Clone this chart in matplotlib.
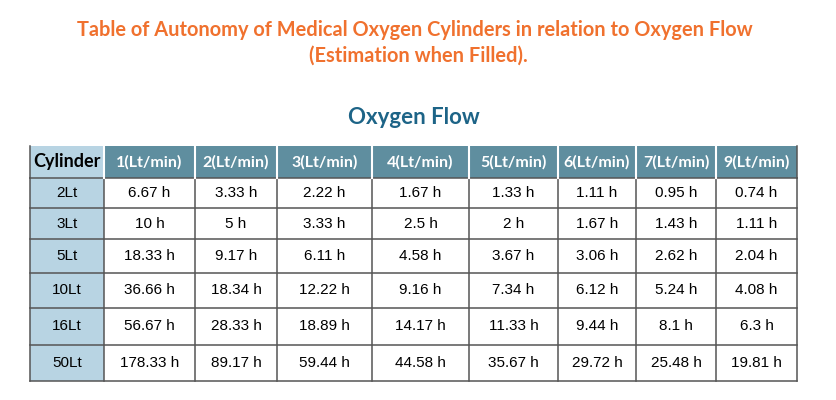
import matplotlib
matplotlib.use("Agg")
import matplotlib.pyplot as plt
from matplotlib.patches import Rectangle

# ---- data ----
title_lines = ["Table of Autonomy of Medical Oxygen Cylinders in relation to Oxygen Flow",
               "(Estimation when Filled)."]
subtitle = "Oxygen Flow"
corner_label = "Cylinder"
flows = ["1(Lt/min)", "2(Lt/min)", "3(Lt/min)", "4(Lt/min)", "5(Lt/min)",
         "6(Lt/min)", "7(Lt/min)", "9(Lt/min)"]
cylinders = ["2Lt", "3Lt", "5Lt", "10Lt", "16Lt", "50Lt"]
hours = [
    ["6.67", "3.33", "2.22", "1.67", "1.33", "1.11", "0.95", "0.74"],
    ["10", "5", "3.33", "2.5", "2", "1.67", "1.43", "1.11"],
    ["18.33", "9.17", "6.11", "4.58", "3.67", "3.06", "2.62", "2.04"],
    ["36.66", "18.34", "12.22", "9.16", "7.34", "6.12", "5.24", "4.08"],
    ["56.67", "28.33", "18.89", "14.17", "11.33", "9.44", "8.1", "6.3"],
    ["178.33", "89.17", "59.44", "44.58", "35.67", "29.72", "25.48", "19.81"],
]

# ---- layout (pixels) ----
col_edges = [30, 104, 195, 277, 372, 469, 558, 636, 716, 797]
row_edges = [146, 178, 208, 239, 273, 308, 345, 381]

ORANGE = "#f0712e"
TEAL = "#1d6487"
HEAD_BG = "#5f8e9f"
CYL_BG = "#b8d4e3"
GRID = "#555555"

W, H = 837, 400
fig = plt.figure(figsize=(W / 100, H / 100), dpi=100)
ax = fig.add_axes([0, 0, 1, 1])
ax.set_xlim(0, W)
ax.set_ylim(H, 0)
ax.axis("off")

head_font = dict(family=["Lato", "DejaVu Sans"], fontweight="bold")
cell_font = dict(family=["Liberation Sans", "DejaVu Sans"])

ax.text(W / 2 - 4, 30, title_lines[0], ha="center", va="center", color=ORANGE,
        fontsize=14.4, **head_font)
ax.text(W / 2, 56, title_lines[1], ha="center", va="center", color=ORANGE,
        fontsize=14.4, **head_font)
ax.text(414, 117, subtitle, ha="center", va="center", color=TEAL,
        fontsize=16, **head_font)

ncol = len(col_edges) - 1
nrow = len(row_edges) - 1

# backgrounds
for j in range(ncol):
    x0, x1 = col_edges[j], col_edges[j + 1]
    y0, y1 = row_edges[0], row_edges[1]
    bg = CYL_BG if j == 0 else HEAD_BG
    ax.add_patch(Rectangle((x0, y0), x1 - x0, y1 - y0, facecolor=bg,
                           edgecolor="none"))
for i in range(1, nrow):
    y0, y1 = row_edges[i], row_edges[i + 1]
    ax.add_patch(Rectangle((col_edges[0], y0), col_edges[1] - col_edges[0],
                           y1 - y0, facecolor=CYL_BG, edgecolor="none"))

# grid lines
for i, y in enumerate(row_edges[1:], start=1):
    ax.plot([col_edges[0], col_edges[-1]], [y, y], color=GRID, lw=1.1)
for j, x in enumerate(col_edges):
    ax.plot([x, x], [row_edges[1], row_edges[-1]], color=GRID, lw=1.1)
    if 0 < j < ncol:
        ax.plot([x, x], [row_edges[0], row_edges[1]], color="white", lw=1.5)
ax.plot([col_edges[0]] * 2, [row_edges[0], row_edges[1]], color=GRID, lw=1.1)
ax.plot([col_edges[-1]] * 2, [row_edges[0], row_edges[1]], color=GRID, lw=1.1)

def cx(j):
    return (col_edges[j] + col_edges[j + 1]) / 2

def cy(i):
    return (row_edges[i] + row_edges[i + 1]) / 2

# header
ax.text(cx(0), cy(0), corner_label, ha="center", va="center", color="black",
        fontsize=13, **head_font)
for j, f in enumerate(flows, start=1):
    ax.text(cx(j), cy(0), f, ha="center", va="center", color="white",
            fontsize=11.5, **head_font)

# body
for i, (cyl, row) in enumerate(zip(cylinders, hours), start=1):
    ax.text(cx(0), cy(i), cyl, ha="center", va="center", color="black",
            fontsize=11, **cell_font)
    for j, v in enumerate(row, start=1):
        ax.text(cx(j), cy(i), f"{v} h", ha="center", va="center",
                color="black", fontsize=11, **cell_font)

fig.savefig("out.png", dpi=100)
